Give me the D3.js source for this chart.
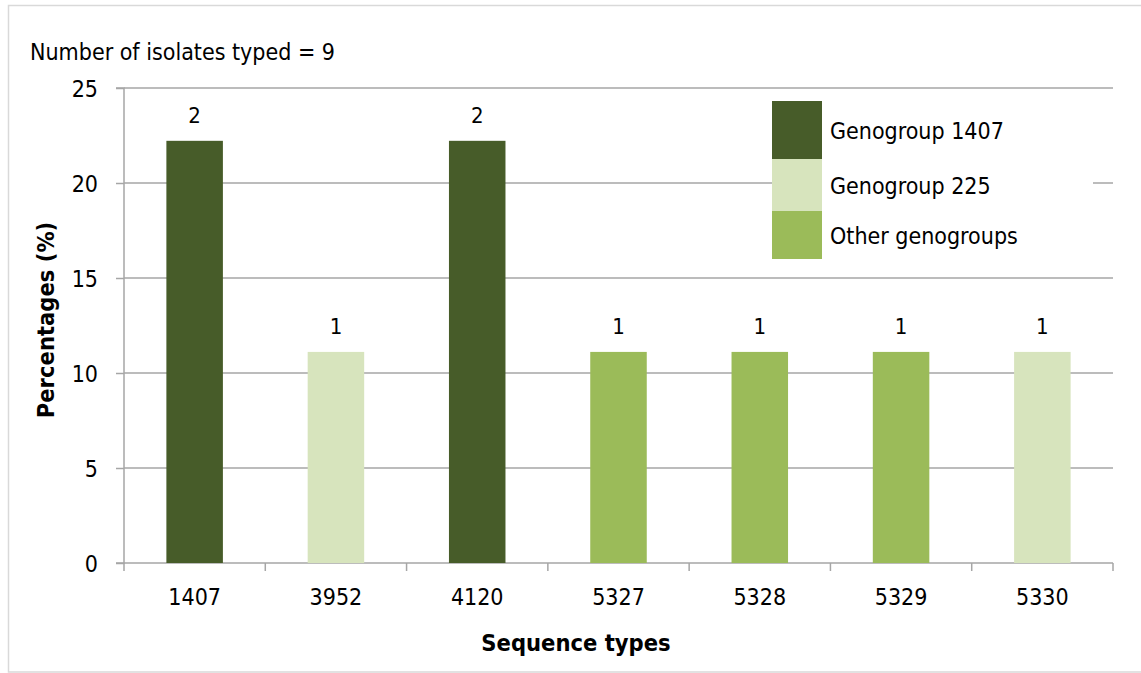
<!DOCTYPE html>
<html>
<head>
<meta charset="utf-8">
<script src="https://cdn.jsdelivr.net/npm/d3@7"></script>
<style>
  html, body { margin: 0; padding: 0; background: #fff; }
  svg { display: block; }
  text { font-family: "DejaVu Sans Condensed", "DejaVu Sans", sans-serif; fill: #000; }
</style>
</head>
<body>
<script>
// Sequence types and their share of typed isolates
const categories = ["1407", "3952", "4120", "5327", "5328", "5329", "5330"];
const percentages = [22.22, 11.11, 22.22, 11.11, 11.11, 11.11, 11.11];
const counts = [2, 1, 2, 1, 1, 1, 1];
const groups = ["Genogroup 1407", "Genogroup 225", "Genogroup 1407", "Other genogroups", "Other genogroups", "Other genogroups", "Genogroup 225"];
const legendLabels = ["Genogroup 1407", "Genogroup 225", "Other genogroups"];
const legendColors = ["#475c29", "#d7e4bd", "#9bbb59"];
const yTicks = [0, 5, 10, 15, 20, 25];
const isolatesTyped = 9;

const W = 1141, H = 673;
const plot = { left: 124, right: 1113, top: 88, bottom: 563 };
const FS = 23;

const svg = d3.select("body").append("svg").attr("width", W).attr("height", H);

// chart frame
svg.append("rect")
  .attr("x", 8.5).attr("y", 5.5).attr("width", W + 10).attr("height", 666.5)
  .attr("fill", "#fff").attr("stroke", "#d9d9d9").attr("stroke-width", 1.5);

const x = d3.scaleBand().domain(categories).range([plot.left, plot.right]).paddingInner(0.6).paddingOuter(0.3);
const xTickScale = d3.scaleLinear().domain([0, categories.length]).range([plot.left, plot.right]);
const y = d3.scaleLinear().domain([0, 25]).range([plot.bottom, plot.top]);
const color = d3.scaleOrdinal().domain(legendLabels).range(legendColors);

const gridColor = "#a6a6a6";

// horizontal gridlines
svg.append("g").selectAll("line").data(yTicks.filter(d => d > 0)).join("line")
  .attr("x1", plot.left).attr("x2", plot.right)
  .attr("y1", d => y(d)).attr("y2", d => y(d))
  .attr("stroke", gridColor).attr("stroke-width", 1.5);

// y axis
const yAxis = d3.axisLeft(y).tickValues(yTicks).tickSize(8).tickPadding(18);
const gy = svg.append("g").attr("transform", `translate(${plot.left},0)`).call(yAxis);
gy.select(".domain").attr("stroke", gridColor).attr("stroke-width", 1.5).attr("d", `M-8,${plot.top}H0V${plot.bottom}H-8`);
gy.selectAll(".tick line").attr("stroke", gridColor).attr("stroke-width", 1.5).attr("x2", -8);
gy.selectAll(".tick text").attr("font-size", FS).attr("font-family", null).attr("x", -26).attr("dy", "0.36em");

// x axis with ticks between categories
const gx = svg.append("g").attr("transform", `translate(0,${plot.bottom})`);
gx.append("line").attr("x1", plot.left).attr("x2", plot.right).attr("y1", 0).attr("y2", 0)
  .attr("stroke", gridColor).attr("stroke-width", 1.5);
gx.selectAll("line.tk").data(d3.range(categories.length + 1)).join("line").attr("class", "tk")
  .attr("x1", d => xTickScale(d)).attr("x2", d => xTickScale(d)).attr("y1", 0).attr("y2", 8)
  .attr("stroke", gridColor).attr("stroke-width", 1.5);
gx.selectAll("text").data(categories).join("text")
  .attr("x", d => x(d) + x.bandwidth() / 2).attr("y", 42)
  .attr("text-anchor", "middle").attr("font-size", FS).text(d => d);

// bars
svg.append("g").selectAll("rect").data(categories).join("rect")
  .attr("x", d => x(d)).attr("width", x.bandwidth())
  .attr("y", (d, i) => y(percentages[i]))
  .attr("height", (d, i) => y(0) - y(percentages[i]))
  .attr("fill", (d, i) => color(groups[i]));

// count labels above bars
svg.append("g").selectAll("text").data(categories).join("text")
  .attr("x", d => x(d) + x.bandwidth() / 2)
  .attr("y", (d, i) => y(percentages[i]) - 18)
  .attr("text-anchor", "middle").attr("font-size", 22)
  .text((d, i) => counts[i]);

// legend
const legend = svg.append("g");
legend.append("rect").attr("x", 772).attr("y", 101).attr("width", 321).attr("height", 158).attr("fill", "#fff");
const swatchY = [101, 159, 211];
const swatchH = [58, 52, 48];
legendLabels.forEach((lab, i) => {
  legend.append("rect").attr("x", 772).attr("y", swatchY[i]).attr("width", 50).attr("height", swatchH[i])
    .attr("fill", legendColors[i]);
  legend.append("text").attr("x", 830).attr("y", swatchY[i] + swatchH[i] / 2 + 8.5)
    .attr("font-size", FS).text(lab);
});

// annotation
svg.append("text").attr("x", 30).attr("y", 60).attr("font-size", FS)
  .text(`Number of isolates typed = ${isolatesTyped}`);

// axis titles
svg.append("text").attr("transform", `translate(54,320) rotate(-90)`)
  .attr("text-anchor", "middle").attr("font-size", 23.5).attr("font-weight", "bold")
  .text("Percentages (%)");
svg.append("text").attr("x", 576).attr("y", 651)
  .attr("text-anchor", "middle").attr("font-size", 23.5).attr("font-weight", "bold")
  .text("Sequence types");
</script>
</body>
</html>
